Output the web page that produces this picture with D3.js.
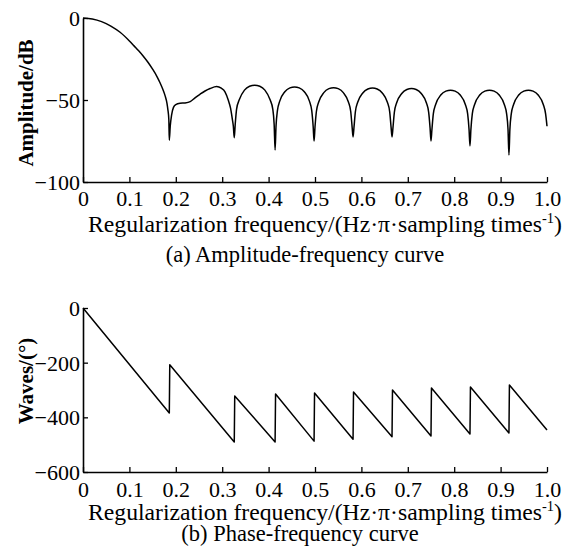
<!DOCTYPE html>
<html>
<head>
<meta charset="utf-8">
<script src="https://cdn.jsdelivr.net/npm/d3@7"></script>
<style>
  html, body { margin: 0; padding: 0; background: #fff; }
  svg { display: block; }
  text { font-family: "Liberation Serif", "Times New Roman", serif; fill: #000; }
</style>
</head>
<body>
<svg id="chart" width="576" height="548"></svg>
<script>
// ---------- data ----------
const xTicks = [0, 0.1, 0.2, 0.3, 0.4, 0.5, 0.6, 0.7, 0.8, 0.9, 1.0];
const xTickLabels = ["0", "0.1", "0.2", "0.3", "0.4", "0.5", "0.6", "0.7", "0.8", "0.9", "1.0"];
const ampTicks = [0, -50, -100];
const phaseTicks = [0, -200, -400, -600];

// Amplitude-frequency curve (normalized frequency, dB)
const ampFreq = [
  0, 0.02, 0.04, 0.06, 0.08, 0.10, 0.11, 0.12, 0.13, 0.14, 0.15, 0.16, 0.166, 0.172, 0.177, 0.181, 0.183, 0.185, 0.186,
  0.188, 0.191, 0.195, 0.200, 0.209, 0.220, 0.231, 0.242, 0.252, 0.263, 0.274, 0.288, 0.298, 0.306, 0.313, 0.318, 0.322, 0.324, 0.326,
  0.328, 0.331, 0.337, 0.348, 0.359, 0.370, 0.381, 0.392, 0.403, 0.409, 0.412, 0.414,
  0.416, 0.419, 0.424, 0.435, 0.446, 0.456, 0.466, 0.477, 0.488, 0.493, 0.496, 0.498,
  0.500, 0.503, 0.508, 0.519, 0.530, 0.540, 0.550, 0.561, 0.572, 0.577, 0.580, 0.582,
  0.584, 0.587, 0.592, 0.603, 0.614, 0.624, 0.634, 0.645, 0.656, 0.661, 0.664, 0.666,
  0.668, 0.671, 0.676, 0.687, 0.698, 0.708, 0.718, 0.729, 0.740, 0.745, 0.748, 0.750,
  0.752, 0.755, 0.760, 0.771, 0.782, 0.792, 0.802, 0.813, 0.824, 0.829, 0.832, 0.834,
  0.836, 0.839, 0.844, 0.855, 0.866, 0.876, 0.886, 0.897, 0.908, 0.913, 0.916, 0.918,
  0.920, 0.923, 0.928, 0.939, 0.950, 0.960, 0.970, 0.981, 0.992, 0.997, 1.000
];
const ampDb = [
  0, -0.6, -2.2, -4.9, -8.7, -14, -17, -20, -23.3, -27, -31.2, -36, -39.5, -43.5, -47.5, -52, -56, -62, -74.5,
  -66, -59, -54.5, -52.8, -52, -51.8, -51, -48.5, -46.5, -44.5, -43, -41.8, -42.8, -45, -50, -55, -62, -66, -73,
  -65, -55.5, -49.7, -44, -41.6, -41, -41.6, -44, -49.7, -55.5, -65, -80.5,
  -66, -56.5, -50.7, -45, -42.6, -42, -42.6, -45, -50.7, -56.5, -66, -75,
  -66.5, -57, -51.2, -45.5, -43.1, -42.5, -43.1, -45.5, -51.2, -57, -66.5, -72.5,
  -66.7, -57.2, -51.4, -45.7, -43.3, -42.7, -43.3, -45.7, -51.4, -57.2, -66.7, -72.5,
  -67, -57.5, -51.7, -46, -43.6, -43, -43.6, -46, -51.7, -57.5, -67, -75,
  -68, -58.5, -52.7, -47, -44.6, -44, -44.6, -47, -52.7, -58.5, -68, -78,
  -68, -58.5, -52.7, -47, -44.6, -44, -44.6, -47, -52.7, -58.5, -68, -83.5,
  -68, -58.5, -52.7, -47, -44.6, -44, -44.6, -47, -52.7, -58.5, -66
];

// Phase-frequency curve (normalized frequency, degrees)
const phaseFreq = [0, 0.186, 0.187, 0.326, 0.327, 0.414, 0.415, 0.498, 0.499, 0.582, 0.583,
  0.666, 0.667, 0.750, 0.751, 0.834, 0.835, 0.918, 0.919, 1.0];
const phaseDeg = [0, -384, -208, -490, -322, -490, -315, -487, -311, -480, -307,
  -471, -300, -468, -293, -461, -289, -457, -282, -446];

// ---------- drawing ----------
const svg = d3.select("#chart");
svg.append("rect").attr("width", 576).attr("height", 548).attr("fill", "#fff");

const X0 = 83, X1 = 547;
const x = d3.scaleLinear().domain([0, 1]).range([X0, X1]);
const FONT = '"Liberation Serif", "Times New Roman", serif';

function panel(cfg) {
  const y = d3.scaleLinear().domain(cfg.domain).range([cfg.bottom, cfg.top]);
  const g = svg.append("g");

  // x axis (ticks pointing inward)
  const xa = g.append("g").attr("transform", `translate(0,${cfg.bottom})`)
    .call(d3.axisBottom(x).tickValues(xTicks).tickSizeInner(-5).tickSizeOuter(0)
      .tickFormat((d, i) => xTickLabels[i]));
  xa.select(".domain").attr("stroke", "#000").attr("stroke-width", 1.6);
  xa.selectAll(".tick line").attr("stroke", "#000").attr("stroke-width", 1.3);
  xa.selectAll(".tick text").attr("y", 0).attr("dy", null)
    .attr("transform", `translate(0,${cfg.tickOff})`)
    .style("font-size", "22px").style("font-family", FONT)
    .attr("fill", "#000");

  // y axis (ticks pointing inward)
  const ya = g.append("g").attr("transform", `translate(${X0},0)`)
    .call(d3.axisLeft(y).tickValues(cfg.ticks).tickSizeInner(-5).tickSizeOuter(0)
      .tickFormat(d3.format("d")));
  ya.select(".domain").attr("stroke", "#000").attr("stroke-width", 1.6);
  ya.selectAll(".tick line").attr("stroke", "#000").attr("stroke-width", 1.3);
  ya.selectAll(".tick text").attr("x", -3).attr("dy", "0.34em")
    .style("font-size", "22px").style("font-family", FONT)
    .attr("fill", "#000");

  // curve
  const line = d3.line().x(d => x(d[0])).y(d => y(d[1])).curve(cfg.curve);
  g.append("path").datum(cfg.xs.map((v, i) => [v, cfg.ys[i]]))
    .attr("d", line).attr("fill", "none").attr("stroke", "#000")
    .attr("stroke-width", 1.5).attr("stroke-linejoin", "round");

  // y label
  g.append("text")
    .attr("transform", `translate(${cfg.ylabX},${cfg.ylabY}) rotate(-90)`)
    .attr("text-anchor", "middle").attr("dy", "0.35em")
    .style("font-size", "21px").style("font-weight", "bold")
    .text(cfg.ylabel);

  // x title
  const t = g.append("text").attr("x", 325).attr("y", cfg.titleY)
    .attr("text-anchor", "middle").style("font-size", "23px")
    .attr("textLength", 474).attr("lengthAdjust", "spacingAndGlyphs");
  t.append("tspan").text("Regularization frequency/(Hz·π·sampling times");
  t.append("tspan").attr("dy", -9).style("font-size", "14px").text("-1");
  t.append("tspan").attr("dy", 9).text(")");

  // caption
  g.append("text").attr("x", cfg.capX).attr("y", cfg.capY)
    .attr("text-anchor", "middle").style("font-size", "22.5px")
    .text(cfg.caption);
}

panel({
  top: 18, bottom: 182, domain: [-100, 0], ticks: ampTicks, tickOff: 24,
  xs: ampFreq, ys: ampDb, curve: d3.curveMonotoneX,
  ylabel: "Amplitude/dB", ylabX: 26, ylabY: 103,
  titleY: 232, caption: "(a) Amplitude-frequency curve", capX: 305, capY: 262
});
panel({
  top: 308, bottom: 472, domain: [-600, 0], ticks: phaseTicks, tickOff: 25,
  xs: phaseFreq, ys: phaseDeg, curve: d3.curveLinear,
  ylabel: "Waves/(°)", ylabX: 26, ylabY: 381,
  titleY: 520, caption: "(b) Phase-frequency curve", capX: 300, capY: 541
});
</script>
</body>
</html>
